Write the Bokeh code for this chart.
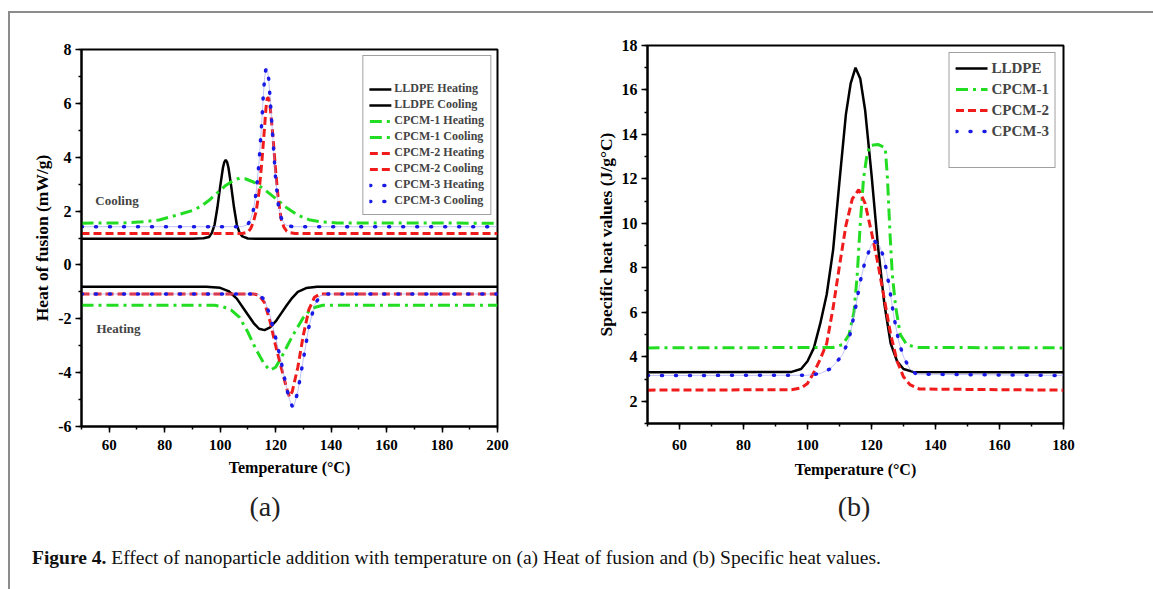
from bokeh.plotting import figure
from bokeh.models import (Legend, LegendItem, Label, SingleIntervalTicker, Range1d, Div,
                          PrintfTickFormatter)
from bokeh.layouts import row, column
from bokeh.embed import file_html
from bokeh.resources import INLINE

# ---------------- data: panel (a) heat of fusion (mW/g) ----------------
a_lldpe_cool_T = [50, 90, 94, 96, 97, 98, 99, 100, 101, 101.5, 102, 102.5, 103, 104, 105, 106, 107, 108, 110, 114, 200]
a_lldpe_cool_v = [0.97, 0.97, 0.99, 1.04, 1.19, 1.5, 2.13, 2.91, 3.61, 3.82, 3.9, 3.82, 3.61, 2.91, 2.13, 1.5, 1.19, 1.06, 0.98, 0.97, 0.97]

a_cpcm1_cool_T = [50, 65, 72, 78, 84, 90, 93, 96, 99, 102, 105, 107, 109, 112, 116, 120, 124, 128, 132, 136, 142, 200]
a_cpcm1_cool_v = [1.55, 1.56, 1.6, 1.67, 1.84, 2.02, 2.17, 2.4, 2.68, 2.95, 3.15, 3.22, 3.2, 3.08, 2.8, 2.47, 2.12, 1.85, 1.68, 1.6, 1.56, 1.55]

a_cpcm2_cool_T = [50, 108, 110, 111, 112, 113, 114, 115, 116, 116.5, 117, 117.5, 118, 119, 120, 121, 122, 123, 124, 125, 127, 200]
a_cpcm2_cool_v = [1.17, 1.17, 1.22, 1.35, 1.6, 2.0, 2.7, 3.8, 5.1, 5.8, 6.2, 6.2, 5.9, 4.8, 3.5, 2.4, 1.7, 1.4, 1.25, 1.2, 1.17, 1.17]

a_cpcm3_cool_T = [50, 108, 110, 111, 112, 113, 114, 115, 115.5, 116, 116.5, 117, 117.5, 118, 119, 120, 121, 122, 123, 124, 126, 200]
a_cpcm3_cool_v = [1.42, 1.42, 1.5, 1.7, 2.05, 2.7, 3.8, 5.3, 6.2, 6.9, 7.3, 7.3, 6.9, 6.2, 4.7, 3.2, 2.2, 1.75, 1.55, 1.47, 1.42, 1.42]

a_lldpe_heat_T = [50, 95, 100, 103, 106, 109, 112, 114, 116, 118, 120, 122, 124, 126, 128, 131, 135, 200]
a_lldpe_heat_v = [-0.81, -0.81, -0.85, -0.97, -1.25, -1.7, -2.15, -2.37, -2.42, -2.32, -2.1, -1.8, -1.5, -1.22, -1.0, -0.86, -0.81, -0.81]

a_cpcm1_heat_T = [50, 98, 101, 104, 107, 110, 113, 116, 118, 120, 122, 124, 126, 128, 130, 132, 134, 137, 200]
a_cpcm1_heat_v = [-1.5, -1.5, -1.55, -1.68, -1.95, -2.5, -3.15, -3.7, -3.91, -3.8, -3.45, -3.05, -2.65, -2.3, -1.95, -1.72, -1.58, -1.5, -1.5]

a_cpcm2_heat_T = [50, 112, 114, 116, 118, 120, 122, 124, 125, 126, 128, 130, 132, 134, 136, 200]
a_cpcm2_heat_v = [-1.08, -1.08, -1.12, -1.4, -2.1, -3.0, -3.8, -4.6, -4.9, -4.7, -3.8, -2.6, -1.65, -1.2, -1.08, -1.08]

a_cpcm3_heat_T = [50, 112, 114, 116, 118, 120, 122, 124, 125, 126, 126.5, 128, 130, 132, 134, 136, 138, 200]
a_cpcm3_heat_v = [-1.08, -1.08, -1.1, -1.3, -1.9, -2.7, -3.6, -4.6, -5.0, -5.25, -5.28, -4.7, -3.5, -2.3, -1.5, -1.15, -1.08, -1.08]

# ---------------- data: panel (b) specific heat (J/g°C) ----------------
b_lldpe_T = [50, 95, 98, 100, 102, 104, 106, 108, 110, 112, 113.5, 115, 116.5, 118, 120, 122, 124, 126, 128, 130, 133, 180]
b_lldpe_v = [3.3, 3.32, 3.45, 3.8, 4.4, 5.5, 6.8, 8.8, 11.9, 14.9, 16.3, 17.0, 16.5, 15.1, 12.2, 9.0, 6.4, 4.6, 3.8, 3.45, 3.32, 3.3]

b_cpcm1_T = [50, 108, 111, 113, 114.5, 115.5, 116.5, 117.5, 118.5, 119.5, 122, 124.3, 125, 125.8, 126.5, 127.5, 129, 131, 134, 180]
b_cpcm1_v = [4.4, 4.42, 4.55, 5.0, 6.0, 7.6, 10.0, 12.0, 13.0, 13.5, 13.55, 13.4, 12.0, 9.5, 7.7, 6.3, 5.0, 4.55, 4.42, 4.4]

b_cpcm2_T = [50, 95, 98, 100, 102, 104, 106, 108, 110, 112, 114, 116, 118, 120, 122, 124, 126, 128, 130, 132, 135, 180]
b_cpcm2_v = [2.5, 2.52, 2.6, 2.8, 3.3, 3.9, 4.6, 6.2, 8.1, 9.9, 11.1, 11.52, 10.9, 9.6, 8.2, 6.6, 5.0, 3.8, 3.1, 2.75, 2.55, 2.5]

b_cpcm3_T = [50, 100, 104, 107, 109, 111, 113, 115, 116.5, 118, 120, 121, 122.5, 124, 125.5, 127, 128.5, 130, 132, 134, 180]
b_cpcm3_v = [3.16, 3.17, 3.25, 3.45, 3.75, 4.1, 4.8, 6.2, 7.4, 8.3, 9.05, 9.2, 9.0, 8.4, 7.2, 5.8, 4.7, 4.0, 3.45, 3.22, 3.16]

legend_a_labels = ["LLDPE Heating", "LLDPE Cooling", "CPCM-1 Heating", "CPCM-1 Cooling",
                   "CPCM-2 Heating", "CPCM-2 Cooling", "CPCM-3 Heating", "CPCM-3 Cooling"]
legend_b_labels = ["LLDPE", "CPCM-1", "CPCM-2", "CPCM-3"]

FONT = "Liberation Serif"
GREEN = "#22dd22"
RED = "#f01c1c"
BLUE = "#1a1ae6"
BLACK = "#000000"

STY = {
    "LLDPE": dict(line_color=BLACK, line_width=2.5, line_dash="solid", line_cap="round"),
    "CPCM-1": dict(line_color=GREEN, line_width=3, line_dash="12 5 3 5", line_cap="butt"),
    "CPCM-2": dict(line_color=RED, line_width=3, line_dash="8 4", line_cap="butt"),
    "CPCM-3": dict(line_color=BLUE, line_width=3.5, line_dash="1 13", line_cap="round"),
}


def style_axes(p, xint, x_label_standoff, x_title_standoff):
    p.title = None
    p.xgrid.visible = False
    p.ygrid.visible = False
    p.outline_line_color = "black"
    p.outline_line_width = 2
    p.outline_line_alpha = 1
    p.background_fill_color = "white"
    p.border_fill_color = None
    for ax in (p.xaxis[0], p.yaxis[0]):
        ax.axis_line_width = 2
        ax.axis_line_color = "black"
        ax.major_tick_line_width = 1.5
        ax.minor_tick_line_width = 1.5
        ax.major_tick_out = 6
        ax.major_tick_in = 0
        ax.minor_tick_out = 3
        ax.minor_tick_in = 0
        ax.major_label_text_font = FONT
        ax.major_label_text_font_style = "bold"
        ax.major_label_text_color = "black"
        ax.axis_label_text_font = FONT
        ax.axis_label_text_font_style = "bold"
        ax.axis_label_text_color = "black"
        ax.formatter = PrintfTickFormatter(format="%d")
    p.xaxis[0].major_label_text_font_size = "15px"
    p.yaxis[0].major_label_text_font_size = "16px"
    p.xaxis[0].axis_label_text_font_size = "16px"
    p.yaxis[0].axis_label_text_font_size = "17.5px"
    p.xaxis[0].ticker = SingleIntervalTicker(interval=xint, num_minor_ticks=2)
    p.yaxis[0].ticker = SingleIntervalTicker(interval=2, num_minor_ticks=2)
    p.xaxis[0].major_label_standoff = x_label_standoff
    p.xaxis[0].axis_label_standoff = x_title_standoff
    p.yaxis[0].major_label_standoff = 4
    p.yaxis[0].axis_label_standoff = 3


def add_line(p, T, v, key):
    if key == "CPCM-3":
        p.line(T, v, line_color="#8f8ff5", line_width=0.8, line_alpha=0.7)
    return p.line(T, v, **STY[key])


# ---------------- panel (a) ----------------
pa = figure(frame_width=416, frame_height=377, min_border_left=71, min_border_right=81,
            min_border_top=36, min_border_bottom=58,
            x_range=Range1d(50, 200), y_range=Range1d(-6, 8),
            output_backend="svg", toolbar_location=None)
style_axes(pa, 20, 7, 6)
pa.xaxis.axis_label = "Temperature (\u00b0C)"
pa.yaxis.axis_label = "Heat of fusion (mW/g)"

r_lh = add_line(pa, a_lldpe_heat_T, a_lldpe_heat_v, "LLDPE")
r_lc = add_line(pa, a_lldpe_cool_T, a_lldpe_cool_v, "LLDPE")
r_1h = add_line(pa, a_cpcm1_heat_T, a_cpcm1_heat_v, "CPCM-1")
r_1c = add_line(pa, a_cpcm1_cool_T, a_cpcm1_cool_v, "CPCM-1")
r_2h = add_line(pa, a_cpcm2_heat_T, a_cpcm2_heat_v, "CPCM-2")
r_2c = add_line(pa, a_cpcm2_cool_T, a_cpcm2_cool_v, "CPCM-2")
r_3h = add_line(pa, a_cpcm3_heat_T, a_cpcm3_heat_v, "CPCM-3")
r_3c = add_line(pa, a_cpcm3_cool_T, a_cpcm3_cool_v, "CPCM-3")

leg_a = Legend(items=[LegendItem(label=l, renderers=[r]) for l, r in
                      zip(legend_a_labels, [r_lh, r_lc, r_1h, r_1c, r_2h, r_2c, r_3h, r_3c])],
               location="top_right", margin=6, padding=6, spacing=1,
               glyph_width=22, glyph_height=12, label_height=12, label_standoff=3,
               label_text_font=FONT, label_text_font_style="bold", label_text_font_size="12px",
               title=" ", title_text_font_size="14px", title_standoff=3,
               border_line_color="#444444", border_line_width=1.5,
               background_fill_color="white", background_fill_alpha=1)
pa.add_layout(leg_a)

for txt, x, y in [("Cooling", 55.0, 2.39), ("Heating", 55.4, -2.36)]:
    pa.add_layout(Label(x=x, y=y, text=txt, text_font=FONT, text_font_style="bold",
                        text_font_size="13px", text_baseline="middle", text_align="left"))

# ---------------- panel (b) ----------------
pb = figure(frame_width=416, frame_height=378, min_border_left=69, min_border_right=90,
            min_border_top=36, min_border_bottom=57,
            x_range=Range1d(50, 180), y_range=Range1d(1, 18),
            output_backend="svg", toolbar_location=None,
            styles={"margin-top": "-4px"})
style_axes(pb, 20, 10, 8)
pb.xaxis.axis_label = "Temperature (\u00b0C)"
pb.yaxis.axis_label = "Specific heat values (J/g\u00b0C)"

rb0 = add_line(pb, b_lldpe_T, b_lldpe_v, "LLDPE")
rb1 = add_line(pb, b_cpcm1_T, b_cpcm1_v, "CPCM-1")
rb2 = add_line(pb, b_cpcm2_T, b_cpcm2_v, "CPCM-2")
rb3 = add_line(pb, b_cpcm3_T, b_cpcm3_v, "CPCM-3")
rb_blank = pb.line([50], [1], line_alpha=0)

items_b = [LegendItem(label=l, renderers=[r]) for l, r in zip(legend_b_labels, [rb0, rb1, rb2, rb3])]
items_b.append(LegendItem(label=" ", renderers=[rb_blank]))
leg_b = Legend(items=items_b, location="top_right", margin=7, padding=6, spacing=3,
               glyph_width=32, glyph_height=18, label_height=18, label_standoff=4,
               label_width=56,
               label_text_font=FONT, label_text_font_style="bold", label_text_font_size="15px",
               border_line_color="#444444", border_line_width=1.5,
               background_fill_color="white", background_fill_alpha=1)
pb.add_layout(leg_b)

SERIF = "font-family:'Liberation Serif',serif;"
cap_a = Div(text='<div style="' + SERIF + 'font-size:28px;line-height:32px;width:500px;'
                 'text-align:center;padding-top:2px;color:#222;">(a)</div>', width=568, height=40)
cap_b = Div(text='<div style="' + SERIF + 'font-size:28px;line-height:32px;width:522px;'
                 'text-align:center;padding-top:2px;color:#222;">(b)</div>', width=575, height=40)

caption = Div(
    text='<div style="' + SERIF + 'font-size:19.5px;line-height:22px;color:#111;'
         'padding:8px 0 0 17px;white-space:nowrap;">'
         '<b>Figure 4.</b> Effect of nanoparticle addition with temperature on (a) Heat of fusion '
         'and (b) Specific heat values.</div>',
    width=1143, height=45)

layout = column(row(pa, pb, spacing=0), row(cap_a, cap_b, spacing=0), caption, spacing=0,
                styles={"border-top": "2px solid #8c8c8c", "border-left": "2px solid #8c8c8c",
                        "margin-top": "11px", "margin-left": "8px", "background": "white"})

open("out.html", "w").write(file_html(layout, INLINE))
